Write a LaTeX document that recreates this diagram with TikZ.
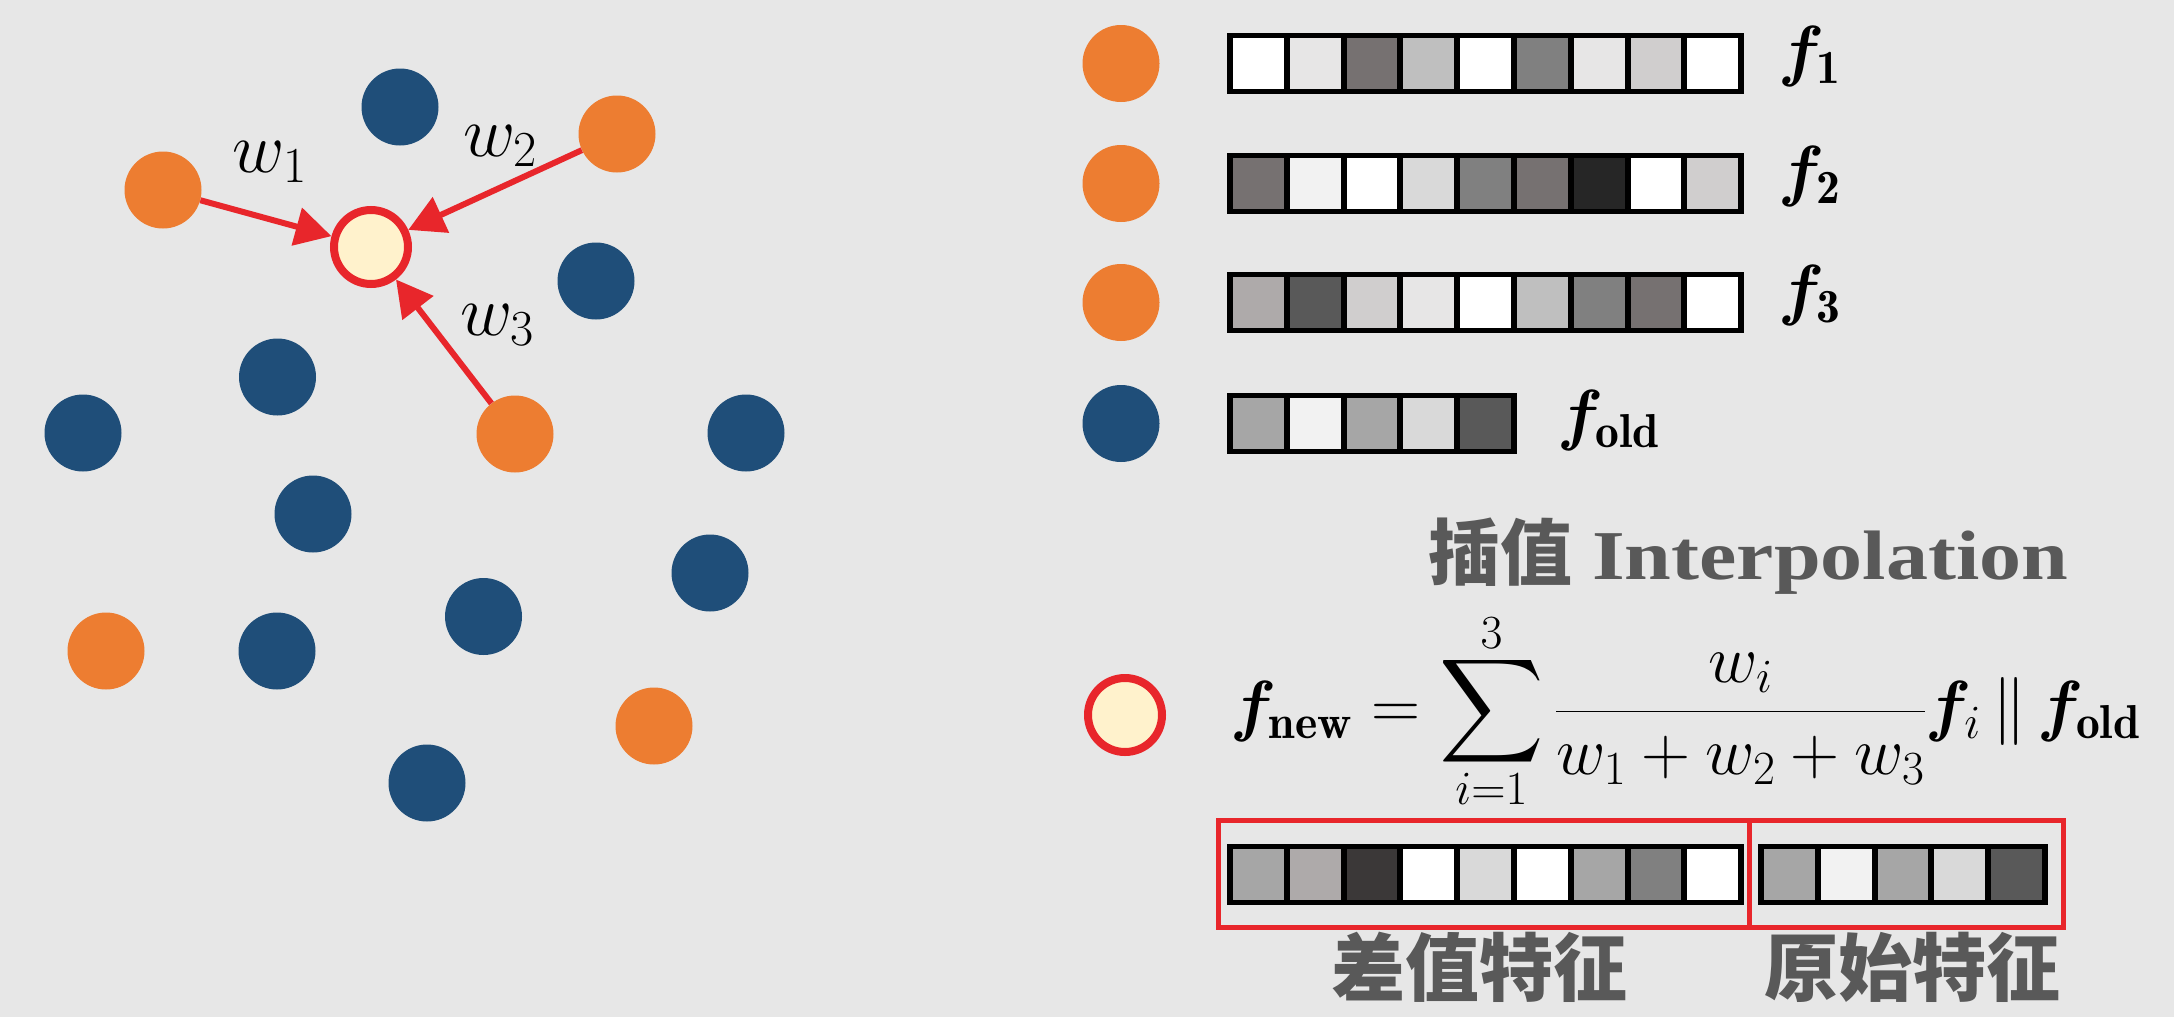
\documentclass[tikz,border=0pt]{standalone}
\usepackage{fix-cm}
\usepackage{amsmath}
\usepackage{graphicx}
\usepackage{bm}
\usepackage{fontspec}
\newfontfamily\cjk{Noto Sans CJK SC}
\newfontfamily\titlefont{Liberation Serif}[FakeStretch=1.2]
\usetikzlibrary{arrows.meta}
\definecolor{bg}{HTML}{E7E7E7}
\definecolor{dotblue}{HTML}{1F4E79}
\definecolor{dotorange}{HTML}{ED7D31}
\definecolor{newfill}{HTML}{FFF2CC}
\definecolor{redline}{HTML}{E8262B}
\definecolor{txtgray}{HTML}{595959}
\definecolor{cF2}{HTML}{F2F2F2}
\definecolor{cE7}{HTML}{E7E6E6}
\definecolor{cD9}{HTML}{D9D9D9}
\definecolor{cD0}{HTML}{D0CECE}
\definecolor{cBF}{HTML}{BFBFBF}
\definecolor{cAE}{HTML}{AEAAAA}
\definecolor{cA6}{HTML}{A6A6A6}
\definecolor{c80}{HTML}{808080}
\definecolor{c76}{HTML}{767171}
\definecolor{c59}{HTML}{595959}
\definecolor{c3B}{HTML}{3B3838}
\definecolor{c26}{HTML}{262626}
\newcommand\bigsum{\mathop{\vcenter{\hbox{\resizebox*{!}{116pt}{$\displaystyle\sum$}}}}\limits}
\tikzset{
  bdot/.style={circle, fill=dotblue, minimum size=77pt, inner sep=0pt},
  odot/.style={circle, fill=dotorange, minimum size=77pt, inner sep=0pt},
  ndot/.style={circle, fill=newfill, draw=redline, line width=8pt, minimum size=74pt, inner sep=0pt},
  warrow/.style={draw=redline, line width=6pt, -{Triangle[length=36pt,width=38pt]}},
  wlabel/.style={font=\fontsize{72}{84}\selectfont, inner sep=0pt},
  flabel/.style={font=\fontsize{68}{80}\selectfont, inner sep=0pt, anchor=base west},
  cjklabel/.style={font=\cjk\bfseries\fontsize{74}{88}\selectfont, text=txtgray, inner sep=0pt},
  redbox/.style={draw=redline, line width=5pt},
}
\newcommand\featbar[4]{%
  \fill[black] (#1,#2-30.5) rectangle ({#1+6+#3*56.8},#2+30.5);
  \foreach \cc [count=\i from 0] in {#4} {
    \fill[fill=\cc] ({#1+6+\i*56.8},#2-25.5) rectangle ({#1+6+\i*56.8+50.8},#2+25.5);
  }
}
\begin{document}
\begin{tikzpicture}[x=1pt,y=-1pt]
\fill[bg] (0,0) rectangle (2174,1017);
\useasboundingbox (0,0) rectangle (2174,1017);
% left panel
\node[bdot] (b1) at (400,107) {};
\node[odot] (o1) at (163,190) {};
\node[odot] (o2) at (617,134) {};
\node[bdot] (b2) at (596,281) {};
\node[bdot] (b3) at (277.5,377) {};
\node[odot] (o3) at (515,434) {};
\node[bdot] (b4) at (83,433) {};
\node[bdot] (b5) at (746,433) {};
\node[bdot] (b6) at (313,514) {};
\node[bdot] (b7) at (710,573) {};
\node[bdot] (b8) at (483.5,616.5) {};
\node[odot] (o4) at (106,651) {};
\node[bdot] (b9) at (277,651) {};
\node[odot] (o5) at (654,726) {};
\node[bdot] (b10) at (427,783) {};
\node[ndot] (n) at (371,247) {};
\draw[warrow] (o1) -- (n);
\draw[warrow] (o2) -- (n);
\draw[warrow] (o3) -- (n);
\node[wlabel] (w1) at (270,162) {$w_1$};
\node[wlabel] (w2) at (500,146) {$w_2$};
\node[wlabel] (w3) at (497,325) {$w_3$};
% right panel: legend
\node[odot] (lo1) at (1121,63.5) {};
\node[odot] (lo2) at (1121,183.5) {};
\node[odot] (lo3) at (1121,302.5) {};
\node[bdot] (lb1) at (1121,423.5) {};
\featbar{1227}{63.5}{9}{white,cE7,c76,cBF,white,c80,cE7,cD0,white}
\featbar{1227}{183.5}{9}{c76,cF2,white,cD9,c80,c76,c26,white,cD0}
\featbar{1227}{302.5}{9}{cAE,c59,cD0,cE7,white,cBF,c80,c76,white}
\featbar{1227}{423.5}{5}{cA6,cF2,cA6,cD9,c59}
\node[flabel] (f1) at (1778,73) {$\bm{f}_{\mathbf{1}}$};
\node[flabel] (f2) at (1778,193) {$\bm{f}_{\mathbf{2}}$};
\node[flabel] (f3) at (1778,312) {$\bm{f}_{\mathbf{3}}$};
\node[flabel] (fo) at (1557,437) {$\bm{f}_{\mathbf{old}}$};
% title
\node[inner sep=0pt, anchor=base west, text=txtgray] (title) at (1428,579)
  {{\cjk\bfseries\fontsize{72}{86}\selectfont 插值}\hspace{20pt}{\titlefont\bfseries\fontsize{70}{84}\selectfont Interpolation}};
% formula
\node[ndot] (n2) at (1125,715) {};
\node[inner sep=0pt, anchor=base west, font=\fontsize{68}{80}\selectfont] (eq) at (1230,728)
  {$\displaystyle \bm{f}_{\mathbf{new}} = \bigsum_{i=1}^{3}\frac{w_i}{w_1+w_2+w_3}\bm{f}_i \,\|\, \bm{f}_{\mathbf{old}}$};
% combined bar
\featbar{1227}{874}{9}{cA6,cAE,c3B,white,cD9,white,cA6,c80,white}
\featbar{1758}{874}{5}{cA6,cF2,cA6,cD9,c59}
\draw[redbox] (1218,820) rectangle (1749,927);
\draw[redbox] (1749,820) rectangle (2063,927);
\node[cjklabel] (lab1) at (1479,967) {差值特征};
\node[cjklabel] (lab2) at (1912,967) {原始特征};
\end{tikzpicture}
\end{document}
